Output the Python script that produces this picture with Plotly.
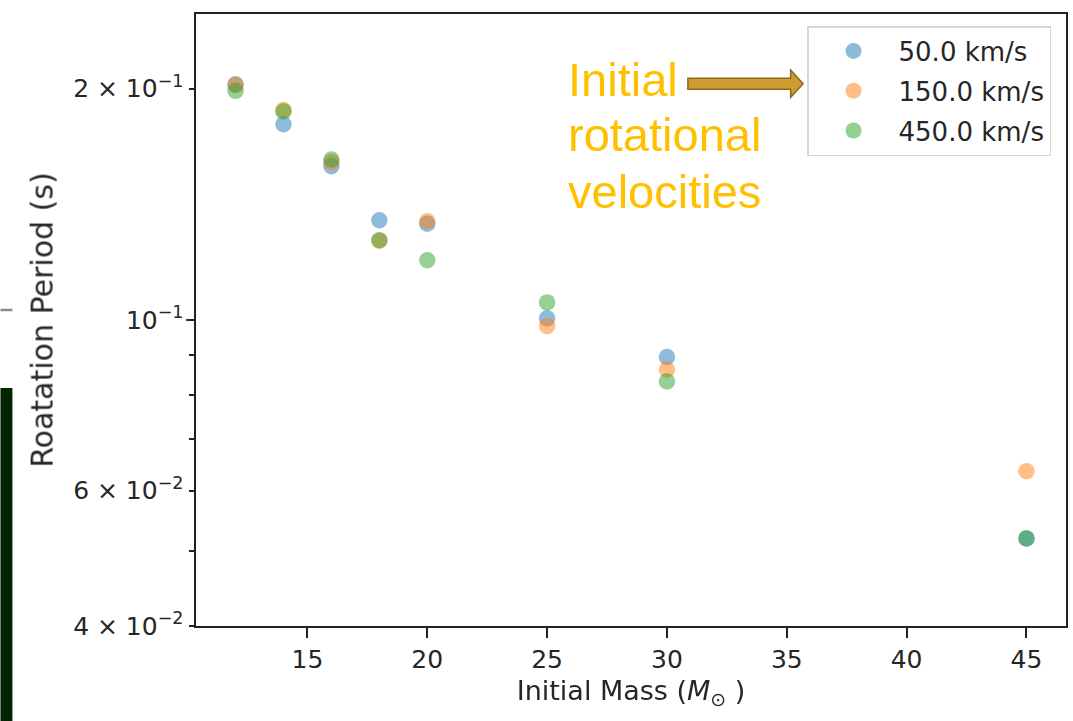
import math
import plotly.graph_objects as go

# ---- data ----
mass = [12, 14, 16, 18, 20, 25, 30, 45]
period_50 = [0.2026, 0.1797, 0.1585, 0.1348, 0.1334, 0.1005, 0.0895, 0.0520]
period_150 = [0.2020, 0.1876, 0.1605, 0.1268, 0.1344, 0.0982, 0.0862, 0.0636]
period_450 = [0.1986, 0.1867, 0.1617, 0.1270, 0.1196, 0.1054, 0.0832, 0.0520]
series_names = ["50.0 km/s", "150.0 km/s", "450.0 km/s"]
series_colors = ["#1f77b4", "#ff7f0e", "#2ca02c"]

x_ticks = [15, 20, 25, 30, 35, 40, 45]
y_tickvals = [0.04, 0.06, 0.1, 0.2]
y_ticktext = ["4 × 10<sup>−2</sup>", "6 × 10<sup>−2</sup>",
              "10<sup>−1</sup>", "2 × 10<sup>−1</sup>"]
y_minor = [0.05, 0.07, 0.08, 0.09]
y_range = [0.04, 0.25]

W, H = 1073, 721
L, R, T, B = 196, 1068, 14, 626
PW, PH = R - L, B - T


def px(x):
    return (x - L) / PW


def py(y):
    return (B - y) / PH


FONT = "DejaVu Sans"
TXT = "#262626"
AX = "#222222"

fig = go.Figure()
for ys, name, col in zip([period_50, period_150, period_450], series_names, series_colors):
    fig.add_trace(go.Scatter(
        x=mass, y=ys, mode="markers", name=name, legendgroup=name,
        marker=dict(color=col, size=16.5, line=dict(width=0)),
        opacity=0.5,
    ))

fig.update_layout(
    width=W, height=H,
    margin=dict(l=L, r=W - R, t=T, b=H - B),
    paper_bgcolor="white", plot_bgcolor="white",
    font=dict(family=FONT, size=26, color=TXT),
    showlegend=True,
    legend=dict(
        x=px(1053), y=py(26), xanchor="right", yanchor="top",
        bgcolor="white", bordercolor="#d6d6d6", borderwidth=1.5,
        font=dict(family=FONT, size=26, color=TXT),
        tracegroupgap=3, traceorder="grouped",
        itemwidth=80,
    ),
    xaxis=dict(
        range=[10.35, 46.65], tickvals=x_ticks, ticks="outside", ticklen=10,
        tickwidth=1.8, tickcolor=AX, showline=True, linecolor=AX, linewidth=2,
        mirror=True, showgrid=False, zeroline=False,
        tickfont=dict(family=FONT, size=25, color=TXT),
        title=dict(text="Initial Mass (<i>M</i><sub>⊙</sub> )",
                   font=dict(family=FONT, size=27, color=TXT), standoff=8),
    ),
    yaxis=dict(
        type="log", range=[math.log10(y_range[0]), math.log10(y_range[1])],
        tickmode="array", tickvals=y_tickvals, ticktext=y_ticktext,
        ticks="outside", ticklen=5.5, tickwidth=1.8, tickcolor=AX,
        minor=dict(tickmode="array", tickvals=y_minor, ticks="outside",
                   ticklen=5.5, tickwidth=1.8, tickcolor=AX, showgrid=False),
        showline=True, linecolor=AX, linewidth=2, mirror=True,
        showgrid=False, zeroline=False,
        tickfont=dict(family=FONT, size=25, color=TXT),
        title=dict(text="Roatation Period (s)",
                   font=dict(family=FONT, size=30, color=TXT), standoff=11),
    ),
)

# longer (major) tick at 10^-1, as in matplotlib
frac = (math.log10(0.1) - math.log10(y_range[0])) / (math.log10(y_range[1]) - math.log10(y_range[0]))
fig.add_shape(type="line", xref="paper", yref="paper",
              x0=px(L - 10), x1=px(L), y0=frac, y1=frac,
              line=dict(color=AX, width=1.8))

# annotation text lines (gold)
gold = "#FFC000"
for txt, base in [("Initial", 98), ("rotational", 153), ("velocities", 210)]:
    fig.add_annotation(
        text=txt, xref="paper", yref="paper", x=px(567), y=py(base - 18),
        xanchor="left", yanchor="middle", showarrow=False,
        font=dict(family="Liberation Sans", size=47, color=gold),
    )

# block arrow pointing at the legend
pts = [(689, 78.3), (792, 78.3), (792, 70), (804.5, 83.7), (792, 97.3), (792, 89.3), (689, 89.3)]
path = "M " + " L ".join(f"{px(a):.5f},{py(b):.5f}" for a, b in pts) + " Z"
fig.add_shape(type="path", path=path, xref="paper", yref="paper",
              fillcolor="#D09B33", line=dict(color="#8C6A1E", width=1.5), layer="above")

# slide remnants on the left edge
fig.add_shape(type="rect", xref="paper", yref="paper",
              x0=px(0), x1=px(12), y0=py(721), y1=py(388),
              fillcolor="#012601", line=dict(width=0), layer="above")
fig.add_shape(type="line", xref="paper", yref="paper",
              x0=px(0), x1=px(12), y0=py(310), y1=py(310),
              line=dict(color="#8a8a8a", width=2.5), layer="above")

fig.write_html("out.html")
